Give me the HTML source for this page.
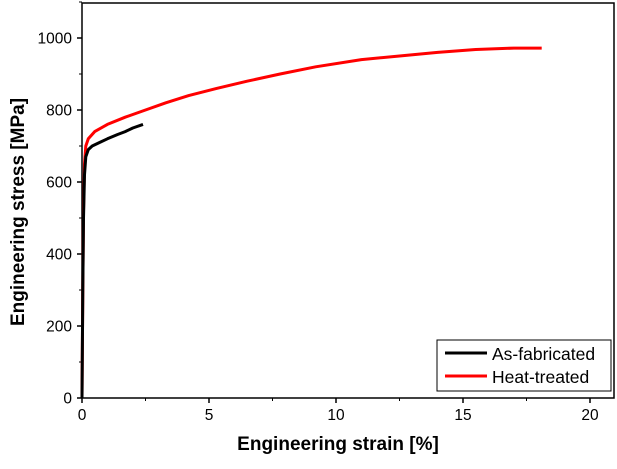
<!DOCTYPE html>
<html><head><meta charset="utf-8"><style>
body{margin:0;background:#fff;}
svg{display:block;font-family:"Liberation Sans",Arial,sans-serif;}
</style></head><body>
<svg id="chart" width="617" height="469" viewBox="0 0 617 469">
<rect x="82" y="3" width="532" height="395" fill="none" stroke="#000" stroke-width="1.5"/>
<g id="ticks"></g>
<g id="series"></g>
<text x="338" y="450" text-anchor="middle" font-size="19" font-weight="bold">Engineering strain [%]</text>
<text transform="translate(24,212) rotate(-90)" text-anchor="middle" font-size="19" font-weight="bold">Engineering stress [MPa]</text>
<g>
<rect x="437" y="340" width="174" height="51" fill="#fff" stroke="#000" stroke-width="1"/>
<line x1="445" y1="353" x2="487" y2="353" stroke="#000" stroke-width="3"/>
<text x="492" y="360" font-size="17.5">As-fabricated</text>
<line x1="445" y1="376" x2="487" y2="376" stroke="#f00" stroke-width="3"/>
<text x="492" y="383" font-size="17.5">Heat-treated</text>
</g>
</svg>
<script>
const xTicks=[0,5,10,15,20];
const yTicks=[0,200,400,600,800,1000];
const asFabX=[0,0.03,0.06,0.1,0.15,0.25,0.4,0.7,1.0,1.4,1.7,2.0,2.4];
const asFabY=[0,300,500,620,670,690,700,710,720,732,740,750,760];
const heatX=[0,0.03,0.06,0.1,0.15,0.25,0.5,1.0,1.7,2.5,3.3,4.2,5.3,6.5,7.8,9.2,11,12.5,14,15.5,17,18.1];
const heatY=[0,300,520,650,700,720,740,760,780,800,820,840,860,880,900,920,940,950,960,968,972,972];
const NS="http://www.w3.org/2000/svg";
const X=v=>82+v*25.4;
const Y=v=>398-v*0.36;
const tg=document.getElementById('ticks');
function mk(tag,attrs,parent){const e=document.createElementNS(NS,tag);for(const k in attrs)e.setAttribute(k,attrs[k]);parent.appendChild(e);return e;}
xTicks.forEach((t,i)=>{
 const l=mk('line',{x1:X(t),x2:X(t),y1:398,y2:403,stroke:'#000','stroke-width':1.5},tg);
 
 
 if(i<xTicks.length-1){const m=mk('line',{x1:X(t+2.5),x2:X(t+2.5),y1:398,y2:401,stroke:'#000','stroke-width':1},tg);
 
 }
 const tx=mk('text',{x:X(t),y:420,'text-anchor':'middle','font-size':15.5},tg);tx.textContent=t;
 
 
});
yTicks.forEach((t)=>{
 const l=mk('line',{x1:77,x2:82,y1:Y(t),y2:Y(t),stroke:'#000','stroke-width':1.5},tg);
 
 
 const m=mk('line',{x1:79,x2:82,y1:Y(t+100),y2:Y(t+100),stroke:'#000','stroke-width':1},tg);
 
 
 const tx=mk('text',{x:72,y:Y(t)+5.5,'text-anchor':'end','font-size':15.5},tg);tx.textContent=t;
 
 
});
const sg=document.getElementById('series');
function path(xs,ys,c,name){
 const d=xs.map((x,i)=>(i?'L':'M')+X(x).toFixed(1)+','+Y(ys[i]).toFixed(1)).join(' ');
 const p=mk('path',{d:d,fill:'none',stroke:c,'stroke-width':3,'stroke-linejoin':'round'},sg);
 
 
}
path(heatX,heatY,'#f00','heat-treated-line');
path(asFabX,asFabY,'#000','as-fabricated-line');
</script>
</body></html>
